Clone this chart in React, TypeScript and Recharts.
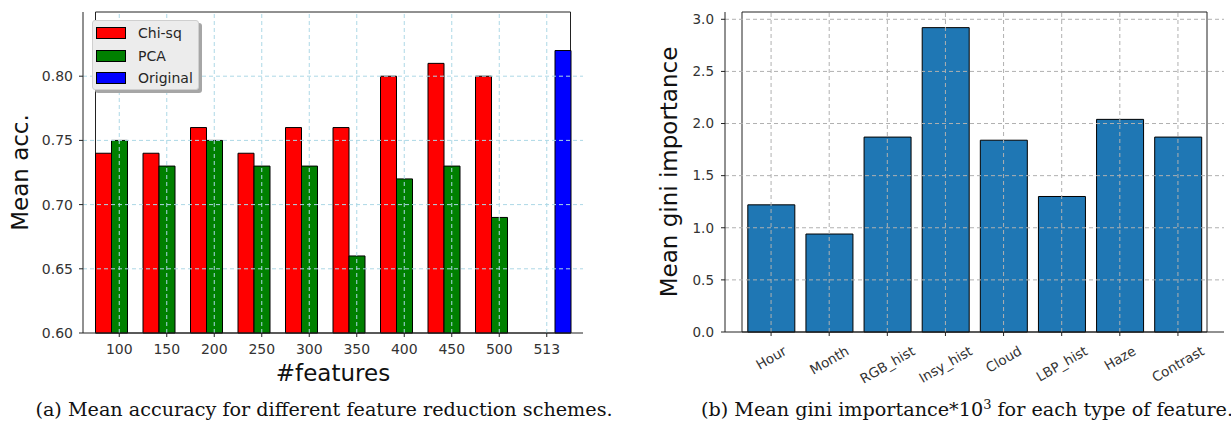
import React from "react";
import {
  Bar,
  BarChart,
  Legend,
  ReferenceArea,
  ReferenceLine,
  XAxis,
  YAxis,
} from "recharts";

// (a) mean accuracy per number of features
const featureCounts = ["100", "150", "200", "250", "300", "350", "400", "450", "500", "513"];
const chiSqAcc = [0.74, 0.74, 0.76, 0.74, 0.76, 0.76, 0.8, 0.81, 0.8, null];
const pcaAcc = [0.75, 0.73, 0.75, 0.73, 0.73, 0.66, 0.72, 0.73, 0.69, null];
const originalAcc = [null, null, null, null, null, null, null, null, null, 0.82];
const accTicks = [0.6, 0.65, 0.7, 0.75, 0.8];
const accSeries = ["Chi-sq", "PCA", "Original"];

// (b) mean gini importance * 10^3 per feature type
const featureTypes = ["Hour", "Month", "RGB_hist", "Insy_hist", "Cloud", "LBP_hist", "Haze", "Contrast"];
const giniImportance = [1.22, 0.94, 1.87, 2.92, 1.84, 1.3, 2.04, 1.87];
const giniTicks = [0, 0.5, 1, 1.5, 2, 2.5, 3];

const accData = featureCounts.map((n, i) => ({
  n,
  chiSq: chiSqAcc[i],
  pca: pcaAcc[i],
  original: originalAcc[i],
}));

const giniData = featureTypes.map((name, i) => ({ name, gini: giniImportance[i] }));

const ACC_DOMAIN: [number, number] = [0.6, 0.85];
const GINI_DOMAIN: [number, number] = [0, 3.07];

const SANS = '"DejaVu Sans", sans-serif';
const SERIF = '"DejaVu Serif", serif';
const SPINE = "#222";
const TICK_FILL = "#333";

let measureCtx: CanvasRenderingContext2D | null = null;
function textWidth(s: string, font: string) {
  if (!measureCtx) measureCtx = document.createElement("canvas").getContext("2d");
  if (!measureCtx) return s.length * 8;
  measureCtx.font = font;
  return measureCtx.measureText(s).width;
}

// x tick labels of (b), rotated 30deg with the box top under the tick
function SlantedTick(props: any) {
  const { x, y, payload } = props;
  const fs = 13.5;
  const w = textWidth(String(payload.value), `${fs}px ${SANS}`);
  const a = Math.PI / 6;
  const boxH = w * Math.sin(a) + fs * 1.1 * Math.cos(a);
  const cy = y + boxH / 2;
  return (
    <text
      x={x}
      y={cy}
      textAnchor="middle"
      dominantBaseline="central"
      transform={`rotate(-30 ${x} ${cy})`}
      fontSize={fs}
      fontFamily={SANS}
      fill={TICK_FILL}
    >
      {payload.value}
    </text>
  );
}

function LegendBox(props: any) {
  const items = [...(props.payload || [])].sort(
    (a: any, b: any) => accSeries.indexOf(a.value) - accSeries.indexOf(b.value)
  );
  return (
    <div
      style={{
        width: 107,
        height: 70,
        boxSizing: "border-box",
        background: "#ececec",
        border: "1px solid #cfcfcf",
        borderRadius: 3,
        boxShadow: "3px 3px 0 #a6a6a6",
        paddingTop: 1,
      }}
    >
      {items.map((entry: any) => (
        <div
          key={entry.value}
          style={{ display: "flex", alignItems: "center", height: 22.5, paddingLeft: 3 }}
        >
          <span
            style={{
              width: 30,
              height: 12,
              boxSizing: "border-box",
              background: entry.color,
              border: "1px solid #000",
            }}
          />
          <span
            style={{
              marginLeft: 12,
              fontSize: 14,
              fontFamily: SANS,
              color: "#262626",
              lineHeight: "16px",
            }}
          >
            {entry.value}
          </span>
        </div>
      ))}
    </div>
  );
}

function AccuracyChart() {
  return (
    <BarChart
      width={600}
      height={395}
      data={accData}
      margin={{ top: 12, right: 17, bottom: 0, left: 0 }}
      barCategoryGap={0}
      barGap={0}
    >
      <XAxis
        dataKey="n"
        height={62}
        padding={{ left: 12.5, right: 12.5 }}
        tickSize={4}
        tickMargin={7}
        tick={{ fontSize: 14, fontFamily: SANS, fill: TICK_FILL }}
        stroke={SPINE}
        label={{
          value: "#features",
          position: "insideBottom",
          offset: 14,
          style: { fontSize: 23, fontFamily: SANS, fill: "#111" },
        }}
      />
      <YAxis
        width={83}
        domain={ACC_DOMAIN}
        ticks={accTicks}
        tickFormatter={(v: number) => v.toFixed(2)}
        tickSize={4}
        tickMargin={6}
        tick={{ fontSize: 14, fontFamily: SANS, fill: TICK_FILL }}
        stroke={SPINE}
        label={{
          value: "Mean acc.",
          angle: -90,
          position: "insideLeft",
          offset: 20,
          style: { textAnchor: "middle", fontSize: 23, fontFamily: SANS, fill: "#111" },
        }}
      />
      <Bar dataKey="chiSq" name={accSeries[0]} fill="#ff0000" stroke="#000" strokeWidth={1} isAnimationActive={false} />
      <Bar dataKey="pca" name={accSeries[1]} fill="#008000" stroke="#000" strokeWidth={1} isAnimationActive={false} />
      <Bar dataKey="original" name={accSeries[2]} fill="#0000ff" stroke="#000" strokeWidth={1} isAnimationActive={false} />
      {/* grid drawn on top of the bars, like the matplotlib original */}
      {featureCounts.map((n) => (
        <ReferenceLine key={`gx${n}`} x={n} stroke="#add8e6" strokeDasharray="4 3" />
      ))}
      {accTicks.slice(1).map((t) => (
        <ReferenceLine key={`gy${t}`} y={t} stroke="#add8e6" strokeDasharray="4 3" />
      ))}
      <ReferenceArea y1={ACC_DOMAIN[0]} y2={ACC_DOMAIN[1]} fill="none" fillOpacity={0} stroke={SPINE} strokeOpacity={1} />
      <Legend
        layout="vertical"
        align="center"
        verticalAlign="middle"
        content={LegendBox}
        wrapperStyle={{ left: 92, top: 20, width: 110, height: 73 }}
      />
    </BarChart>
  );
}

function GiniChart() {
  return (
    <BarChart
      width={591}
      height={395}
      data={giniData}
      margin={{ top: 12, right: 7, bottom: 0, left: 0 }}
      barCategoryGap="10%"
    >
      <XAxis
        dataKey="name"
        height={63}
        padding={{ left: 17, right: 17 }}
        tickSize={4}
        tickMargin={7}
        interval={0}
        tick={<SlantedTick />}
        stroke={SPINE}
      />
      <YAxis
        width={85}
        domain={GINI_DOMAIN}
        ticks={giniTicks}
        tickFormatter={(v: number) => v.toFixed(1)}
        tickSize={4}
        tickMargin={7}
        tick={{ fontSize: 13.5, fontFamily: SANS, fill: TICK_FILL }}
        stroke={SPINE}
        label={{
          value: "Mean gini importance",
          angle: -90,
          position: "insideLeft",
          offset: 29,
          style: { textAnchor: "middle", fontSize: 23, fontFamily: SANS, fill: "#111" },
        }}
      />
      <Bar dataKey="gini" fill="#1f77b4" stroke="#000" strokeWidth={1} isAnimationActive={false} />
      {featureTypes.map((name) => (
        <ReferenceLine key={`gx${name}`} x={name} stroke="#b0b0b0" strokeDasharray="4 3" />
      ))}
      {giniTicks.slice(1).map((t) => (
        <ReferenceLine key={`gy${t}`} y={t} stroke="#b0b0b0" strokeDasharray="4 3" />
      ))}
      <ReferenceArea y1={GINI_DOMAIN[0]} y2={GINI_DOMAIN[1]} fill="none" fillOpacity={0} stroke={SPINE} strokeOpacity={1} />
    </BarChart>
  );
}

const captionStyle: React.CSSProperties = {
  position: "absolute",
  top: 399,
  fontFamily: SERIF,
  fontSize: 19.2,
  color: "#111",
  textAlign: "center",
  whiteSpace: "nowrap",
  lineHeight: "22px",
};

export default function App() {
  return (
    <div
      style={{
        position: "absolute",
        left: 0,
        top: 0,
        width: 1231,
        height: 423,
        overflow: "hidden",
        background: "#fff",
      }}
    >
      <div style={{ position: "absolute", left: 0, top: 0 }}>
        <AccuracyChart />
      </div>
      <div style={{ position: "absolute", left: 640, top: 0 }}>
        <GiniChart />
      </div>
      <div style={{ ...captionStyle, left: 0, width: 648 }}>
        (a) Mean accuracy for different feature reduction schemes.
      </div>
      <div style={{ ...captionStyle, left: 642, width: 650 }}>
        (b) Mean gini importance*10<sup style={{ fontSize: 13, lineHeight: 0 }}>3</sup> for each type of feature.
      </div>
    </div>
  );
}
